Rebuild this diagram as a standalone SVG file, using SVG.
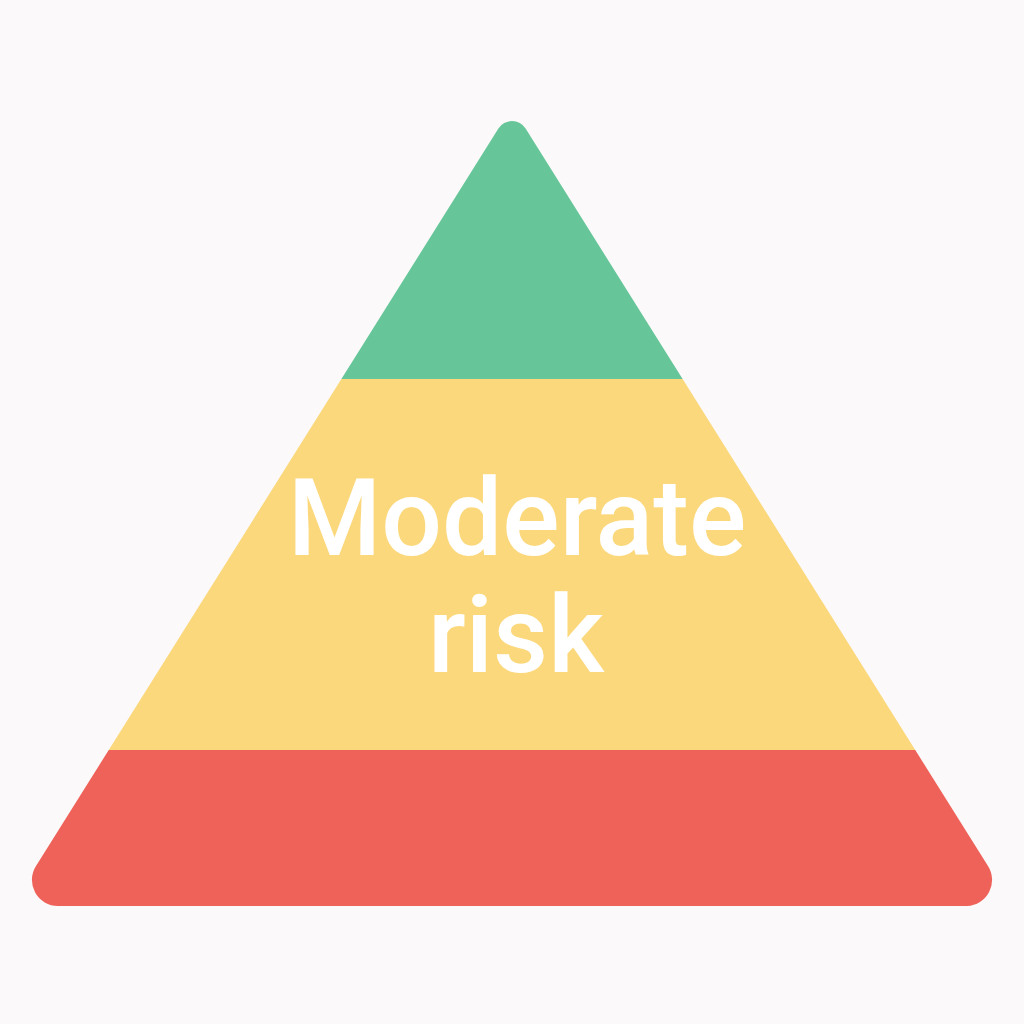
<svg xmlns="http://www.w3.org/2000/svg" width="1024" height="1024" viewBox="0 0 1024 1024">
  <style>
    .label { font-family: Roboto, "Liberation Sans", sans-serif; font-weight: 500; font-size: 107px; fill: #ffffff; text-anchor: middle; }
  </style>
  <defs>
    <clipPath id="tri">
      <path id="triPath" d="M498.4,128.6 A16,16 0 0 1 525.6,128.6 L988,866 A26,26 0 0 1 967,906 L58,906 A26,26 0 0 1 36,866 Z"/>
    </clipPath>
  </defs>
  <rect width="1024" height="1024" fill="#fbf9f9"/>
  <g id="pyramid" clip-path="url(#tri)">
    <g id="top-band"><rect x="0" y="100" width="1024" height="279" fill="#66c699"/></g>
    <g id="middle-band"><rect x="0" y="379" width="1024" height="371" fill="#fbd87c"/></g>
    <g id="bottom-band"><rect x="0" y="750" width="1024" height="170" fill="#ee6259"/></g>
  </g>
  <g id="connectors"/>
  <g id="label">
    <text class="label" x="517" y="555">Moderate</text>
    <text class="label" x="516" y="672">risk</text>
  </g>
</svg>
